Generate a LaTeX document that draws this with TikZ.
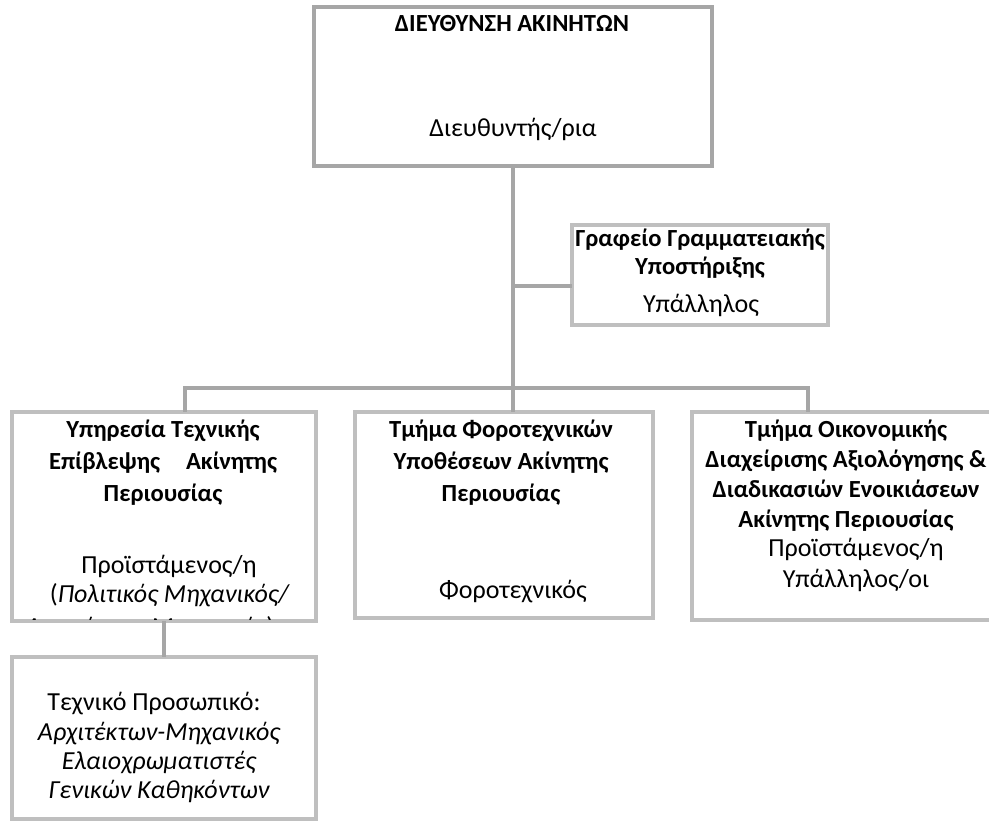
\documentclass[tikz,border=0pt]{standalone}
\usepackage{fontspec}
\setmainfont{Carlito}
\usetikzlibrary{calc}
\definecolor{boxgray}{HTML}{BFBFBF}
\definecolor{headgray}{HTML}{A6A6A6}
\definecolor{linkgray}{HTML}{A6A6A6}

\begin{document}
\begin{tikzpicture}[
    x = 0.5pt, y = -0.5pt,
    font = \fontsize{13}{15}\selectfont,
    unit/.style = {draw=boxgray, line width=2pt, fill=white,
        inner sep=0pt, outer sep=0pt},
    head/.style = {unit, draw=headgray},
    link/.style = {draw=linkgray, line width=2pt},
    txt/.style = {anchor=base, inner sep=0pt},
    bold/.style = {txt, font=\fontsize{12.3}{15}\selectfont\bfseries}
  ]
  \useasboundingbox (0,0) rectangle (989,822);
  \clip (0,0) rectangle (989,822);

  % boxes
  \node[head, minimum width=199pt, minimum height=79.5pt] (DIR) at (513,86.5) {};
  \node[unit, minimum width=128pt, minimum height=50pt] (SEC) at (700,275) {};
  \node[unit, minimum width=152pt, minimum height=104.5pt] (TECH) at (164,516.5) {};
  \node[unit, minimum width=149pt, minimum height=103pt] (TAX) at (504,515) {};
  \node[unit, minimum width=162pt, minimum height=104pt] (FIN) at (854,516) {};
  \node[unit, minimum width=152pt, minimum height=81pt] (STAFF) at (164,738) {};

  % connectors
  \coordinate (BAR) at (513,388);
  \coordinate (BARL) at (185,388);
  \coordinate (BARR) at (808,388);
  \coordinate (SECJ) at (513,286);
  \draw[link] (DIR.south) -- (BAR);
  \draw[link] (SECJ) -- (SECJ -| SEC.west);
  \draw[link] (BARL |- TECH.north) -- (BARL) -- (BARR) -- (BARR |- FIN.north);
  \draw[link] (BAR) -- (BAR |- TAX.north);
  \draw[link] (TECH.south) -- (STAFF.north);

  % texts
  \node[bold] (DIRt) at (512,32) {ΔΙΕΥΘΥΝΣΗ ΑΚΙΝΗΤΩΝ};
  \node[txt] (DIRr) at (513,137) {Διευθυντής/ρια};

  \node[bold] (SECt0) at (700,247) {Γραφείο Γραμματειακής};
  \node[bold] (SECt1) at (700,275) {Υποστήριξης};
  \node[txt] (SECr) at (701,313) {Υπάλληλος};

  \foreach \t [count=\i from 0] in {Υπηρεσία Τεχνικής, \makebox[114pt][s]{Επίβλεψης Ακίνητης}, Περιουσίας}
    \node[bold] (TECHt\i) at (163,438+32*\i) {\t};
  \node[txt] (TECHr0) at (169,574) {Προϊστάμενος/η};
  \node[txt] (TECHr1) at (170,602) {(\textit{Πολιτικός Μηχανικός/}};
  \begin{scope}
    \clip (TECH.north west) rectangle ([yshift=1pt]TECH.south east);
    \node[txt] (TECHr2) at (150,635) {\textit{Αρχιτέκτων Μηχανικός})};
  \end{scope}

  \foreach \t [count=\i from 0] in {Τμήμα Φοροτεχνικών, Υποθέσεων Ακίνητης, Περιουσίας}
    \node[bold] (TAXt\i) at (501,438+32*\i) {\t};
  \node[txt] (TAXr) at (513,598) {Φοροτεχνικός};

  \foreach \t [count=\i from 0] in {Τμήμα Οικονομικής, Διαχείρισης Αξιολόγησης \&, Διαδικασιών Ενοικιάσεων, Ακίνητης Περιουσίας}
    \node[bold] (FINt\i) at (846,438+30*\i) {\t};
  \foreach \t [count=\i from 0] in {Προϊστάμενος/η, Υπάλληλος/οι}
    \node[txt] (FINr\i) at (856,557+30*\i) {\t};

  \node[txt] (STAFFt) at (154,710) {Τεχνικό Προσωπικό:};
  \foreach \t [count=\i from 0] in {Αρχιτέκτων-Μηχανικός, Ελαιοχρωματιστές, Γενικών Καθηκόντων}
    \node[txt] (STAFFr\i) at (159,740+29*\i) {\itshape\t};
\end{tikzpicture}
\end{document}
